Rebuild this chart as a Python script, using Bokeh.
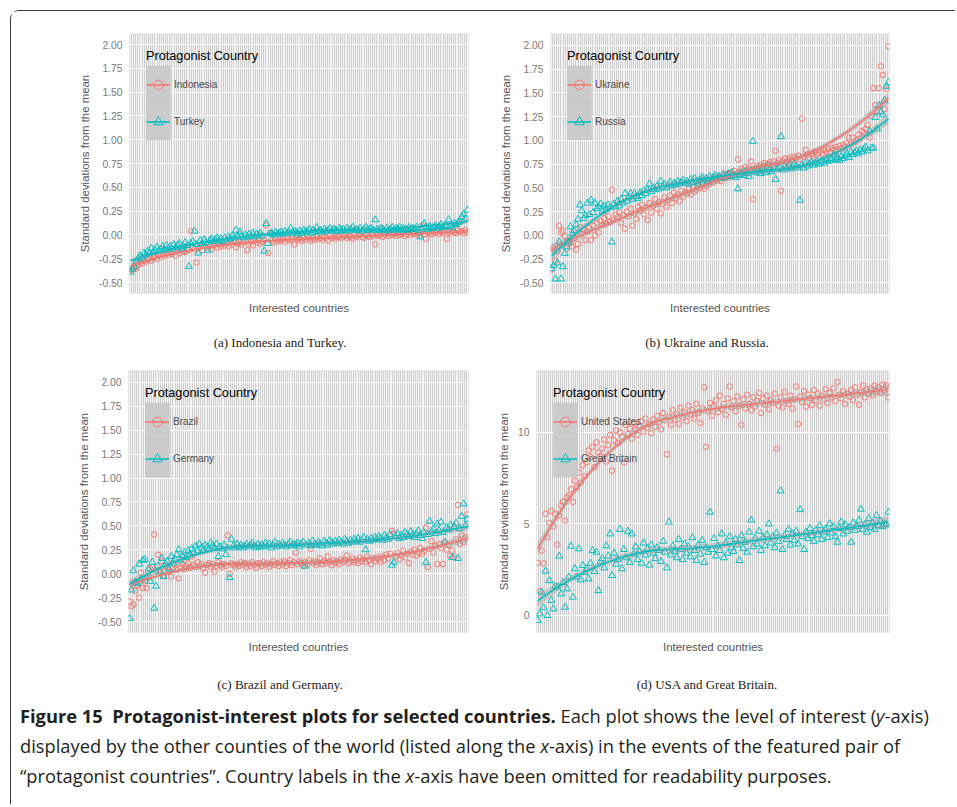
import numpy as np
from bokeh.plotting import figure
from bokeh.layouts import column, row
from bokeh.models import (Range1d, FixedTicker, CustomJSTickFormatter, Legend,
                          LegendItem, BoxAnnotation, Div)
from bokeh.embed import file_html
from bokeh.resources import INLINE

# Interested countries, ordered along the x-axis (labels omitted)
N = 180
countries = list(range(1, N + 1))

# (a) Indonesia and Turkey
indonesia = [
    -0.37, -0.36, -0.34, -0.35, -0.31, -0.29, -0.30, -0.27, -0.28, -0.26,
    -0.25, -0.27, -0.24, -0.22, -0.25, -0.21, -0.23, -0.20, -0.22, -0.19,
    -0.21, -0.18, -0.20, -0.17, -0.22, -0.16, -0.19, -0.15, -0.17, -0.18,
    -0.14, -0.16, 0.04, -0.13, -0.15, -0.29, -0.14, -0.12, -0.16, -0.11,
    -0.13, -0.10, -0.12, -0.15, -0.11, -0.09, -0.13, -0.10, -0.12, -0.08,
    -0.11, -0.09, -0.12, -0.07, -0.10, -0.08, -0.13, -0.09, -0.07, -0.10,
    -0.08, -0.06, -0.16, -0.09, -0.07, -0.11, -0.06, -0.08, -0.05, -0.09,
    -0.07, -0.05, 0.10, -0.19, 0.02, -0.06, -0.08, -0.04, -0.07, -0.05,
    -0.06, -0.04, -0.07, -0.03, -0.05, -0.06, -0.04, -0.10, -0.03, -0.05,
    -0.04, -0.06, -0.03, -0.05, -0.02, -0.04, -0.06, -0.03, -0.05, -0.02,
    -0.04, -0.03, -0.05, -0.02, -0.03, -0.06, -0.01, -0.03, -0.02, -0.04,
    -0.02, -0.01, -0.03, -0.02, 0.00, -0.03, -0.01, -0.02, -0.04, 0.00,
    -0.02, -0.01, 0.01, -0.02, -0.03, 0.00, -0.01, -0.02, 0.01, -0.01,
    -0.10, 0.00, -0.01, 0.01, -0.02, 0.00, 0.01, -0.01, 0.02, 0.00,
    0.01, -0.01, 0.02, 0.00, 0.01, 0.02, -0.01, 0.01, 0.03, 0.00,
    0.02, 0.01, 0.03, 0.00, 0.02, 0.10, 0.01, -0.04, 0.03, 0.02,
    0.01, 0.03, 0.02, 0.04, 0.01, 0.03, 0.02, 0.04, -0.04, 0.03,
    0.02, 0.04, 0.03, 0.02, 0.05, 0.03, 0.04, 0.02, 0.05, 0.03,
]
turkey = [
    -0.39, -0.36, -0.33, -0.28, -0.25, -0.22, -0.24, -0.19, -0.21, -0.17,
    -0.19, -0.14, -0.18, -0.16, -0.13, -0.17, -0.15, -0.12, -0.16, -0.11,
    -0.14, -0.12, -0.15, -0.10, -0.13, -0.11, -0.09, -0.14, -0.12, -0.08,
    -0.11, -0.33, -0.09, -0.07, 0.04, -0.10, -0.19, -0.06, -0.09, -0.05,
    -0.08, -0.16, -0.06, -0.04, -0.07, -0.05, -0.03, -0.06, -0.04, -0.07,
    -0.03, -0.05, -0.02, -0.04, -0.01, -0.03, 0.05, -0.02, 0.03, -0.01,
    -0.03, 0.00, -0.02, 0.01, -0.01, 0.02, -0.02, 0.01, 0.00, 0.02,
    -0.01, -0.17, 0.12, -0.09, 0.01, 0.02, 0.00, 0.03, 0.01, 0.02,
    0.03, 0.01, 0.04, 0.02, 0.03, 0.07, 0.02, 0.04, 0.03, 0.01,
    0.04, 0.02, 0.05, 0.03, 0.04, 0.06, 0.02, 0.05, 0.03, 0.08,
    0.04, 0.05, 0.03, 0.06, 0.04, 0.05, 0.07, 0.04, 0.06, 0.05,
    0.04, 0.07, 0.05, 0.06, 0.04, 0.07, 0.05, 0.06, 0.08, 0.05,
    0.06, 0.05, 0.07, 0.04, 0.06, 0.08, 0.05, 0.06, 0.07, 0.05,
    0.16, 0.06, 0.05, 0.07, 0.06, 0.04, 0.07, 0.05, 0.06, 0.08,
    0.05, 0.07, 0.06, 0.08, 0.05, 0.07, 0.06, 0.05, 0.08, 0.06,
    0.07, 0.06, 0.08, 0.05, -0.02, 0.07, 0.12, 0.08, 0.06, 0.09,
    0.07, 0.08, 0.10, 0.07, 0.09, 0.11, 0.08, 0.10, 0.09, 0.16,
    0.10, 0.08, 0.12, 0.11, 0.13, 0.14, 0.19, 0.22, 0.17, 0.26,
]

# (b) Ukraine and Russia
ukraine = [
    -0.36, -0.14, -0.27, -0.17, 0.10, 0.03, 0.05, -0.01, -0.14, -0.06,
    -0.08, -0.12, -0.03, -0.15, -0.09, 0.09, 0.02, 0.06, -0.05, 0.04,
    0.08, -0.05, 0.10, 0.00, 0.13, 0.03, 0.15, 0.11, 0.18, 0.12,
    0.20, 0.14, 0.48, 0.16, 0.22, 0.19, 0.24, 0.13, 0.21, 0.07,
    0.25, 0.20, 0.28, 0.10, 0.23, 0.17, 0.30, 0.26, 0.32, 0.22,
    0.29, 0.16, 0.34, 0.24, 0.31, 0.38, 0.28, 0.35, 0.23, 0.33,
    0.40, 0.30, 0.37, 0.42, 0.34, 0.45, 0.39, 0.43, 0.36, 0.47,
    0.41, 0.46, 0.44, 0.49, 0.43, 0.51, 0.46, 0.48, 0.53, 0.50,
    0.55, 0.49, 0.52, 0.57, 0.54, 0.59, 0.56, 0.60, 0.58, 0.62,
    0.57, 0.63, 0.60, 0.65, 0.61, 0.66, 0.63, 0.68, 0.64, 0.80,
    0.67, 0.70, 0.66, 0.72, 0.69, 0.71, 0.78, 0.38, 0.70, 0.73,
    0.71, 0.74, 0.72, 0.76, 0.73, 0.75, 0.77, 0.74, 0.78, 0.89,
    0.76, 0.79, 0.47, 0.78, 0.81, 0.77, 0.80, 0.82, 0.79, 0.83,
    0.81, 0.84, 0.80, 1.23, 0.83, 0.90, 0.85, 0.82, 0.86, 0.84,
    0.88, 0.85, 0.87, 0.89, 0.86, 0.90, 0.88, 0.91, 0.87, 0.92,
    0.90, 0.93, 0.81, 0.94, 0.91, 0.95, 0.93, 0.97, 1.03, 0.96,
    1.03, 0.98, 1.00, 1.06, 1.02, 1.10, 1.08, 1.12, 1.16, 1.03,
    1.26, 1.55, 1.37, 1.30, 1.55, 1.78, 1.69, 1.33, 1.54, 1.99,
]
russia = [
    -0.35, -0.32, -0.46, -0.29, -0.07, -0.46, -0.33, -0.19, -0.12, -0.07,
    0.09, 0.02, 0.05, 0.11, 0.17, 0.32, 0.26, 0.18, 0.21, 0.34,
    0.22, 0.37, 0.24, 0.34, 0.28, 0.30, 0.33, 0.25, 0.31, 0.27,
    0.32, 0.29, -0.07, 0.33, 0.30, 0.36, 0.31, 0.38, 0.34, 0.44,
    0.36, 0.40, 0.44, 0.38, 0.44, 0.41, 0.39, 0.45, 0.42, 0.47,
    0.44, 0.48, 0.54, 0.46, 0.50, 0.48, 0.52, 0.49, 0.57, 0.51,
    0.54, 0.50, 0.53, 0.56, 0.52, 0.55, 0.53, 0.57, 0.54, 0.56,
    0.58, 0.55, 0.57, 0.54, 0.59, 0.56, 0.60, 0.57, 0.55, 0.59,
    0.61, 0.58, 0.60, 0.56, 0.62, 0.59, 0.61, 0.63, 0.60, 0.62,
    0.60, 0.64, 0.61, 0.63, 0.65, 0.62, 0.66, 0.63, 0.61, 0.49,
    0.64, 0.66, 0.63, 0.67, 0.65, 0.62, 0.68, 0.99, 0.66, 0.69,
    0.67, 0.65, 0.70, 0.68, 0.66, 0.71, 0.69, 0.67, 0.72, 0.59,
    0.70, 0.72, 1.04, 0.69, 0.73, 0.71, 0.74, 0.70, 0.72, 0.75,
    0.73, 0.71, 0.37, 0.74, 0.71, 0.76, 0.73, 0.75, 0.77, 0.74,
    0.76, 0.78, 0.75, 0.77, 0.79, 0.76, 0.80, 0.78, 0.81, 0.79,
    0.85, 0.80, 0.82, 0.79, 0.83, 0.81, 0.84, 0.86, 0.82, 0.88,
    0.85, 0.87, 0.89, 0.86, 0.90, 0.88, 0.91, 0.93, 0.89, 1.10,
    0.92, 0.92, 1.24, 1.12, 1.37, 1.30, 1.27, 1.42, 1.57, 1.61,
]

# (c) Brazil and Germany
brazil = [
    -0.29, -0.34, -0.32, -0.18, -0.12, -0.25, 0.01, -0.15, -0.08, -0.15,
    -0.03, 0.05, 0.07, 0.41, 0.03, 0.20, 0.04, 0.13, -0.02, 0.08,
    0.05, 0.02, -0.03, 0.06, 0.09, 0.04, -0.05, 0.07, 0.10, 0.05,
    0.08, 0.11, 0.06, 0.18, 0.09, 0.07, 0.12, 0.08, 0.10, 0.06,
    0.01, 0.09, 0.11, 0.07, 0.10, 0.02, 0.08, 0.12, 0.09, 0.07,
    0.10, 0.08, 0.40, 0.00, 0.11, 0.09, 0.07, 0.10, 0.08, 0.12,
    0.09, 0.11, 0.07, 0.10, 0.08, 0.12, 0.09, 0.06, 0.11, 0.10,
    0.08, 0.12, 0.09, 0.11, 0.07, 0.10, 0.13, 0.09, 0.11, 0.08,
    0.12, 0.10, 0.13, 0.08, 0.11, 0.14, 0.09, 0.12, 0.22, 0.10,
    0.13, 0.11, 0.08, 0.12, 0.10, 0.14, 0.26, 0.11, 0.13, 0.09,
    0.12, 0.16, 0.10, 0.13, 0.11, 0.18, 0.12, 0.09, 0.14, 0.11,
    0.13, 0.10, 0.15, 0.12, 0.14, 0.19, 0.11, 0.13, 0.16, 0.12,
    0.14, 0.11, 0.17, 0.13, 0.15, 0.12, 0.18, 0.14, 0.10, 0.16,
    0.13, 0.17, 0.15, 0.12, 0.18, 0.14, 0.20, 0.16, 0.21, 0.45,
    0.42, 0.18, 0.22, 0.15, 0.19, 0.24, 0.17, 0.21, 0.11, 0.23,
    0.20, 0.25, 0.19, 0.22, 0.27, 0.21, 0.24, 0.48, 0.07, 0.26,
    0.34, 0.22, 0.29, 0.10, 0.31, 0.27, 0.10, 0.33, 0.25, 0.30,
    0.19, 0.24, 0.17, 0.36, 0.72, 0.31, 0.40, 0.33, 0.38, 0.62,
]
germany = [
    -0.47, -0.17, 0.03, -0.09, -0.10, 0.10, -0.06, 0.14, 0.15, -0.04,
    0.05, -0.08, 0.12, -0.36, -0.13, 0.08, 0.02, 0.16, -0.03, 0.10,
    0.13, 0.05, 0.18, 0.11, 0.15, 0.20, 0.25, 0.14, 0.19, 0.22,
    0.17, 0.24, 0.20, 0.26, 0.22, 0.29, 0.24, 0.31, 0.27, 0.25,
    0.30, 0.28, 0.26, 0.32, 0.29, 0.27, 0.31, 0.18, 0.28, 0.26,
    0.30, 0.20, 0.27, -0.04, 0.36, 0.29, 0.27, 0.31, 0.28, 0.30,
    0.27, 0.29, 0.31, 0.28, 0.30, 0.32, 0.29, 0.27, 0.31, 0.28,
    0.30, 0.28, 0.32, 0.29, 0.31, 0.27, 0.30, 0.33, 0.28, 0.31,
    0.29, 0.32, 0.30, 0.28, 0.31, 0.33, 0.29, 0.31, 0.30, 0.32,
    0.28, 0.31, 0.33, 0.08, 0.30, 0.32, 0.29, 0.34, 0.31, 0.30,
    0.33, 0.31, 0.29, 0.34, 0.32, 0.30, 0.35, 0.33, 0.31, 0.34,
    0.32, 0.35, 0.33, 0.31, 0.36, 0.34, 0.32, 0.35, 0.33, 0.36,
    0.34, 0.37, 0.33, 0.35, 0.38, 0.25, 0.36, 0.34, 0.37, 0.35,
    0.38, 0.36, 0.39, 0.37, 0.35, 0.40, 0.38, 0.36, 0.41, 0.09,
    0.12, 0.39, 0.42, 0.37, 0.40, 0.38, 0.43, 0.41, 0.39, 0.44,
    0.40, 0.38, 0.42, 0.45, 0.40, 0.37, 0.43, 0.12, 0.41, 0.55,
    0.44, 0.47, 0.42, 0.52, 0.45, 0.54, 0.43, 0.33, 0.48, 0.46,
    0.51, 0.17, 0.49, 0.53, 0.16, 0.47, 0.60, 0.73, 0.50, 0.57,
]

# (d) USA and Great Britain
united_states = [
    2.87, 1.33, 3.53, 2.84, 5.55, 4.27, 5.05, 5.70, 4.87, 5.55,
    3.87, 5.45, 6.00, 6.20, 5.18, 6.45, 6.55, 6.90, 6.20, 7.36,
    7.00, 7.80, 7.25, 8.20, 7.60, 8.36, 9.00, 8.65, 9.20, 8.10,
    9.45, 8.90, 8.70, 9.10, 9.60, 8.40, 9.30, 9.85, 7.90, 9.55,
    10.10, 9.40, 10.00, 9.75, 8.36, 10.40, 9.90, 10.20, 9.65, 10.50,
    10.15, 9.85, 10.35, 10.60, 10.05, 10.75, 10.25, 10.45, 9.95, 10.70,
    10.30, 10.90, 10.55, 10.15, 11.05, 10.65, 8.80, 10.85, 10.40, 11.20,
    10.70, 11.00, 10.45, 11.35, 10.80, 11.10, 10.60, 11.45, 10.95, 11.20,
    10.75, 11.55, 11.05, 10.50, 11.30, 12.45, 9.20, 11.15, 11.60, 10.90,
    11.40, 11.75, 11.10, 12.00, 11.25, 11.55, 10.95, 11.85, 12.50, 11.35,
    11.70, 11.15, 11.95, 11.45, 10.40, 11.80, 11.30, 12.05, 11.55, 11.20,
    11.90, 11.40, 11.70, 12.15, 11.05, 11.85, 11.50, 12.00, 11.25, 11.75,
    11.60, 12.10, 9.10, 11.45, 11.90, 11.35, 12.20, 11.70, 11.55, 12.00,
    11.30, 11.80, 12.50, 10.45, 11.95, 11.65, 12.25, 11.40, 12.05, 11.85,
    11.50, 12.30, 11.75, 12.10, 11.45, 12.00, 11.80, 12.35, 11.60, 12.15,
    11.90, 12.40, 11.70, 12.75, 12.05, 11.85, 12.25, 11.55, 12.10, 11.95,
    12.30, 11.75, 12.45, 12.05, 11.50, 12.20, 12.55, 11.90, 12.35, 12.10,
    12.40, 12.00, 12.55, 12.25, 12.45, 12.15, 12.60, 12.30, 12.55, 11.90,
]
great_britain = [
    -0.27, 0.09, 1.27, 0.42, 2.42, 0.00, 1.90, 0.82, 0.36, 1.60,
    1.55, 3.24, 1.18, 1.80, 0.45, 1.45, 2.10, 3.78, 1.00, 2.55,
    2.10, 3.64, 1.95, 2.73, 2.35, 2.55, 2.00, 2.85, 3.55, 2.40,
    3.45, 1.36, 2.95, 3.10, 2.60, 3.80, 3.25, 4.45, 2.18, 3.40,
    2.80, 3.05, 4.70, 2.55, 3.60, 3.15, 4.60, 2.90, 4.45, 3.35,
    3.75, 3.05, 3.50, 2.85, 3.95, 3.30, 3.65, 2.75, 3.85, 3.40,
    3.10, 3.70, 3.55, 2.95, 4.05, 3.45, 2.60, 5.10, 3.30, 3.80,
    3.50, 3.15, 4.15, 3.60, 3.05, 3.90, 3.40, 3.75, 3.20, 4.25,
    3.55, 3.00, 3.85, 3.35, 4.10, 2.90, 3.70, 3.45, 5.64, 3.60,
    4.20, 3.25, 3.80, 3.55, 4.45, 3.15, 3.95, 3.40, 4.30, 3.70,
    3.50, 4.15, 3.85, 3.00, 4.35, 3.65, 4.00, 3.45, 4.55, 5.20,
    3.75, 4.20, 3.90, 4.60, 3.55, 4.25, 3.80, 4.40, 5.00, 3.95,
    4.30, 3.70, 4.50, 4.05, 6.80, 3.60, 4.35, 4.15, 4.70, 3.85,
    4.45, 4.10, 4.60, 3.90, 5.78, 4.30, 3.60, 4.55, 4.20, 4.75,
    4.35, 4.05, 4.65, 4.40, 4.90, 4.15, 4.55, 4.70, 4.25, 5.00,
    4.50, 4.85, 4.30, 4.00, 4.75, 5.10, 4.45, 4.95, 4.60, 4.80,
    4.00, 5.05, 4.65, 4.85, 5.20, 5.80, 4.70, 4.95, 4.55, 5.30,
    4.80, 5.05, 4.70, 5.45, 4.90, 5.15, 4.85, 5.00, 4.95, 5.64,
]

sd_ticks = [-0.5, -0.25, 0.0, 0.25, 0.5, 0.75, 1.0, 1.25, 1.5, 1.75, 2.0]
usa_ticks = [0, 5, 10]

for s in (indonesia, turkey, ukraine, russia, brazil, germany, united_states, great_britain):
    assert len(s) == N, len(s)

RED = "#F8766D"
TEAL = "#00BFC4"
SANS = "Liberation Sans"


def loess(x, y, span=0.75, npts=80):
    """Local quadratic regression with tricube weights, plus a 95% band."""
    x = np.asarray(x, float)
    y = np.asarray(y, float)
    n = len(x)
    q = int(np.floor(n * span))

    def row_weights(x0):
        d = np.abs(x - x0)
        h = np.sort(d)[q - 1]
        u = np.clip(d / h, 0.0, 1.0)
        w = (1.0 - u ** 3) ** 3
        X = np.column_stack([np.ones(n), x - x0, (x - x0) ** 2])
        XtW = X.T * w
        return np.linalg.solve(XtW @ X, XtW)[0]

    L = np.array([row_weights(v) for v in x])
    resid = y - L @ y
    M = np.eye(n) - L
    sigma = np.sqrt(np.sum(resid ** 2) / np.trace(M.T @ M))
    grid = np.linspace(x.min(), x.max(), npts)
    G = np.array([row_weights(v) for v in grid])
    fit = G @ y
    se = sigma * np.sqrt(np.sum(G ** 2, axis=1))
    return grid, fit, fit - 1.97 * se, fit + 1.97 * se


def make_panel(red_vals, teal_vals, names, yr, ticks, fmt_code,
               fw, fh, bl, br, bt, bb):
    p = figure(frame_width=fw, frame_height=fh,
               min_border_left=bl, min_border_right=br,
               min_border_top=bt, min_border_bottom=bb,
               x_range=Range1d(0.4, N + 0.6), y_range=Range1d(*yr),
               output_backend="svg", toolbar_location=None)
    p.background_fill_color = "#CFCFCF"
    p.border_fill_color = "white"
    p.outline_line_color = None

    # one white line per country, white lines on the y breaks
    p.xaxis.ticker = FixedTicker(ticks=[])
    p.xgrid.ticker = FixedTicker(ticks=countries)
    p.xgrid.grid_line_color = "white"
    p.xgrid.grid_line_width = 0.75
    p.yaxis.ticker = FixedTicker(ticks=ticks)
    p.ygrid.ticker = FixedTicker(ticks=ticks)
    p.ygrid.grid_line_color = "white"
    p.ygrid.grid_line_width = 1.1

    for ax in (p.xaxis, p.yaxis):
        ax.axis_line_color = None
        ax.major_tick_line_color = None
        ax.minor_tick_line_color = None
        ax.major_tick_out = 0
        ax.minor_tick_out = 0
        ax.axis_label_text_font = SANS
        ax.axis_label_text_font_size = "11.4px"
        ax.axis_label_text_font_style = "normal"
        ax.axis_label_text_color = "#555555"
        ax.major_label_text_font = SANS
        ax.major_label_text_font_size = "10.3px"
        ax.major_label_text_color = "#7A7A7A"
    p.xaxis.axis_label = "Interested countries"
    p.xaxis.major_label_standoff = 0
    p.xaxis.axis_label_standoff = 8
    p.yaxis.axis_label = "Standard deviations from the mean"
    p.yaxis.major_label_standoff = 7
    p.yaxis.axis_label_standoff = 5
    p.yaxis.formatter = CustomJSTickFormatter(code=fmt_code)

    pts_r = p.scatter(countries, red_vals, marker="circle", size=5.5,
                      fill_color=None, line_color=RED, line_width=1)
    pts_t = p.scatter(countries, teal_vals, marker="triangle", size=7,
                      fill_color=None, line_color=TEAL, line_width=1)

    lines = []
    for vals, col in ((red_vals, RED), (teal_vals, TEAL)):
        gx, fit, lo, hi = loess(countries, vals)
        p.varea(x=gx, y1=lo, y2=hi, fill_color="#999999", fill_alpha=0.4)
        lines.append(p.line(gx, fit, line_color=col, line_width=1.6))

    # legend key backgrounds (frame-pixel offsets converted to data units)
    x0, x1 = 0.4, N + 0.6
    y0, y1 = yr

    def dx(px):
        return x0 + px / fw * (x1 - x0)

    def dy(py):
        return y1 - py / fh * (y1 - y0)

    for top, bot in ((32.5, 69.5), (69.5, 106.5)):
        p.add_layout(BoxAnnotation(left=dx(17), right=dx(41), top=dy(top), bottom=dy(bot),
                                   fill_color="#CBCBCB", fill_alpha=1.0,
                                   line_color="#BDBDBD", line_width=1))

    legend = Legend(
        items=[LegendItem(label=names[0], renderers=[lines[0], pts_r]),
               LegendItem(label=names[1], renderers=[lines[1], pts_t])],
        title="Protagonist Country", location=(17, fh - 106.5),
        glyph_width=24, glyph_height=37, label_height=37, spacing=0,
        padding=0, margin=0, label_standoff=4, title_standoff=3,
        border_line_color=None, background_fill_alpha=0,
        title_text_font=SANS, title_text_font_size="12.7px",
        title_text_font_style="normal", title_text_color="black",
        label_text_font=SANS, label_text_font_size="10px",
        label_text_color="#4D4D4D")
    p.add_layout(legend)
    return p


SD_FMT = "return tick.toFixed(2);"
INT_FMT = "return tick.toFixed(0);"

pa = make_panel(indonesia, turkey, ("Indonesia", "Turkey"), (-0.615, 2.116), sd_ticks, SD_FMT,
                339, 260, 118, 22, 22, 30)
pb = make_panel(ukraine, russia, ("Ukraine", "Russia"), (-0.613, 2.126), sd_ticks, SD_FMT,
                339, 260, 60, 66, 22, 30)
pc = make_panel(brazil, germany, ("Brazil", "Germany"), (-0.615, 2.125), sd_ticks, SD_FMT,
                340, 262, 117, 22, 10, 33)
pd = make_panel(united_states, great_britain, ("United States", "Great Britain"), (-0.93, 13.37),
                usa_ticks, INT_FMT, 353, 262, 46, 66, 10, 33)

SERIF = "font-family:'Liberation Serif',serif;font-size:13px;color:#222;line-height:40px;white-space:nowrap;"


def sub_captions(left, right, h):
    return Div(text=(f'<div style="{SERIF}">'
                     f'<span style="display:inline-block;width:538px;text-align:center;">{left}</span>'
                     f'<span style="display:inline-block;width:316px;text-align:center;">{right}</span>'
                     '</div>'), width=944, height=h, margin=(0, 0, 0, 0))


cap1 = sub_captions("(a) Indonesia and Turkey.", "(b) Ukraine and Russia.", 37)
cap2 = sub_captions("(c) Brazil and Germany.", "(d) USA and Great Britain.", 35)

fig_caption = Div(text=(
    '<div style="padding-left:9px;padding-top:1px;white-space:nowrap;'
    "font-family:'Open Sans',sans-serif;"
    'font-size:18.3px;line-height:30px;color:#231F20;letter-spacing:0px;">'
    '<b>Figure 15&nbsp; Protagonist-interest plots for selected countries.</b> '
    'Each plot shows the level of interest (<i>y</i>-axis)<br>'
    'displayed by the other counties of the world (listed along the <i>x</i>-axis) '
    'in the events of the featured pair of<br>'
    '\u201cprotagonist countries\u201d. Country labels in the <i>x</i>-axis have been '
    'omitted for readability purposes.</div>'), width=944, height=104, margin=(0, 0, 0, 0))

layout = column(row(pa, pb), cap1, row(pc, pd), cap2, fig_caption,
                margin=(10, 0, 0, 10),
                styles={"border-top": "1.3px solid #3C3C3C",
                        "border-left": "1.3px solid #3C3C3C",
                        "border-top-left-radius": "9px"})

open("out.html", "w").write(file_html(layout, INLINE))
